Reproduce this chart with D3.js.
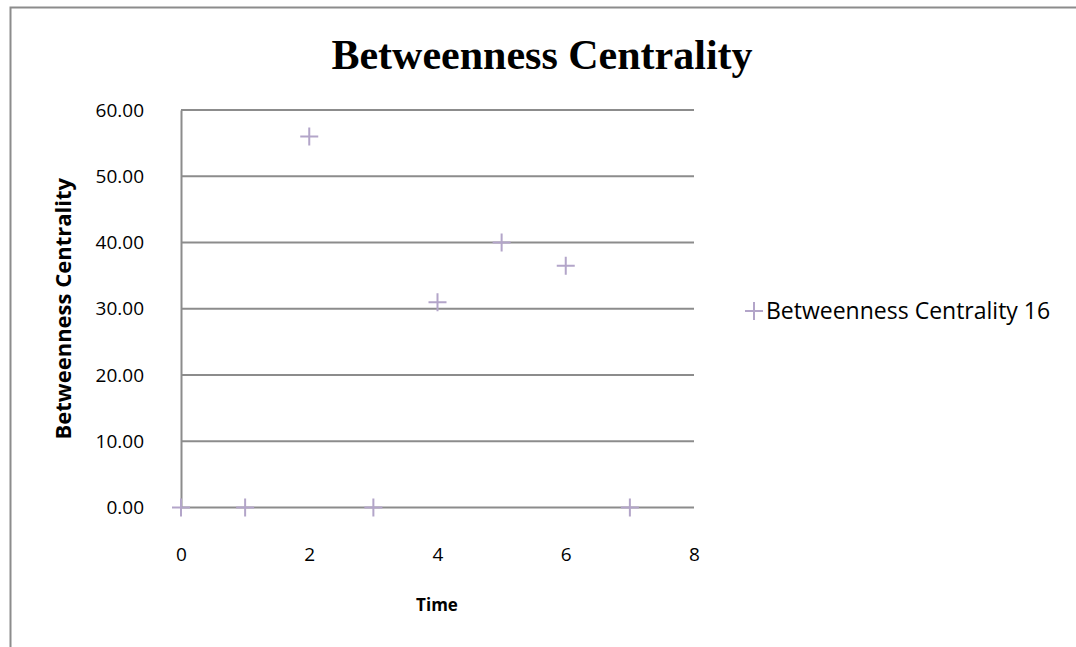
<!DOCTYPE html>
<html>
<head>
<meta charset="utf-8">
<script src="https://cdn.jsdelivr.net/npm/d3@7"></script>
<style>
  body { margin: 0; background: #fff; }
  svg text { font-family: "Open Sans", "Noto Sans", sans-serif; }
</style>
</head>
<body>
<svg id="chart" width="1076" height="647"></svg>
<script>
// data
const times = [0, 1, 2, 3, 4, 5, 6, 7];
const centrality = [0, 0, 56, 0, 31, 40, 36.5, 0];
const yTicks = [0, 10, 20, 30, 40, 50, 60];
const xTicks = [0, 2, 4, 6, 8];
const seriesName = "Betweenness Centrality 16";

const margin = {top: 110, left: 181, right: 382, bottom: 140};
const width = 1076 - margin.left - margin.right;
const height = 647 - margin.top - margin.bottom + 0.5;

const svg = d3.select("#chart");
const markColor = "#b3a5c9";

// outer chart border
svg.append("rect")
  .attr("x", 10.5).attr("y", 7.5)
  .attr("width", 1100).attr("height", 700)
  .attr("fill", "none").attr("stroke", "#8c8c8c").attr("stroke-width", 2);

svg.append("text")
  .attr("x", 542).attr("y", 69)
  .attr("text-anchor", "middle")
  .style("font-family", "'Liberation Serif', 'Times New Roman', serif")
  .style("font-weight", "bold")
  .style("font-size", "42px")
  .text("Betweenness Centrality");

const x = d3.scaleLinear().domain([0, 8]).range([margin.left, margin.left + width]);
const y = d3.scaleLinear().domain([0, 60]).range([margin.top + height, margin.top]);

// gridlines
svg.append("g")
  .selectAll("line")
  .data(yTicks)
  .enter().append("line")
  .attr("x1", x(0)).attr("x2", x(8))
  .attr("y1", d => y(d)).attr("y2", d => y(d))
  .attr("stroke", "#8c8c8c").attr("stroke-width", 2);

// y axis
const yAxis = svg.append("g")
  .attr("transform", "translate(" + x(0) + ",0)")
  .call(d3.axisLeft(y).tickValues(yTicks).tickFormat(d3.format(".2f")).tickSize(0).tickPadding(37));
yAxis.select(".domain").attr("stroke", "#8c8c8c").attr("stroke-width", 2);
yAxis.selectAll("text").style("font-size", "19px").attr("fill", "#000");

// x axis
const xAxis = svg.append("g")
  .attr("transform", "translate(0," + y(0) + ")")
  .call(d3.axisBottom(x).tickValues(xTicks).tickSize(0).tickPadding(40));
xAxis.select(".domain").remove();
xAxis.selectAll("text").style("font-size", "19px").attr("fill", "#000");

// axis titles
svg.append("text")
  .attr("x", 437).attr("y", 611)
  .attr("text-anchor", "middle")
  .style("font-weight", "bold").style("font-size", "17px")
  .text("Time");

svg.append("text")
  .attr("transform", "translate(71," + (y(30)) + ") rotate(-90)")
  .attr("text-anchor", "middle")
  .style("font-weight", "bold").style("font-size", "22px")
  .text("Betweenness Centrality");

// plus markers
const pts = times.map((t, i) => ({t: t, v: centrality[i]}));
svg.append("g")
  .selectAll("path")
  .data(pts)
  .enter().append("path")
  .attr("d", "M-9,0H9M0,-9V9")
  .attr("transform", d => "translate(" + x(d.t) + "," + y(d.v) + ")")
  .attr("stroke", markColor).attr("stroke-width", 2).attr("fill", "none");

// legend
const leg = svg.append("g").attr("transform", "translate(754,311)");
leg.append("path").attr("d", "M-9,0H9M0,-9V9")
  .attr("stroke", markColor).attr("stroke-width", 2);
leg.append("text").attr("x", 12).attr("y", 8)
  .style("font-size", "23px")
  .text(seriesName);
</script>
</body>
</html>
